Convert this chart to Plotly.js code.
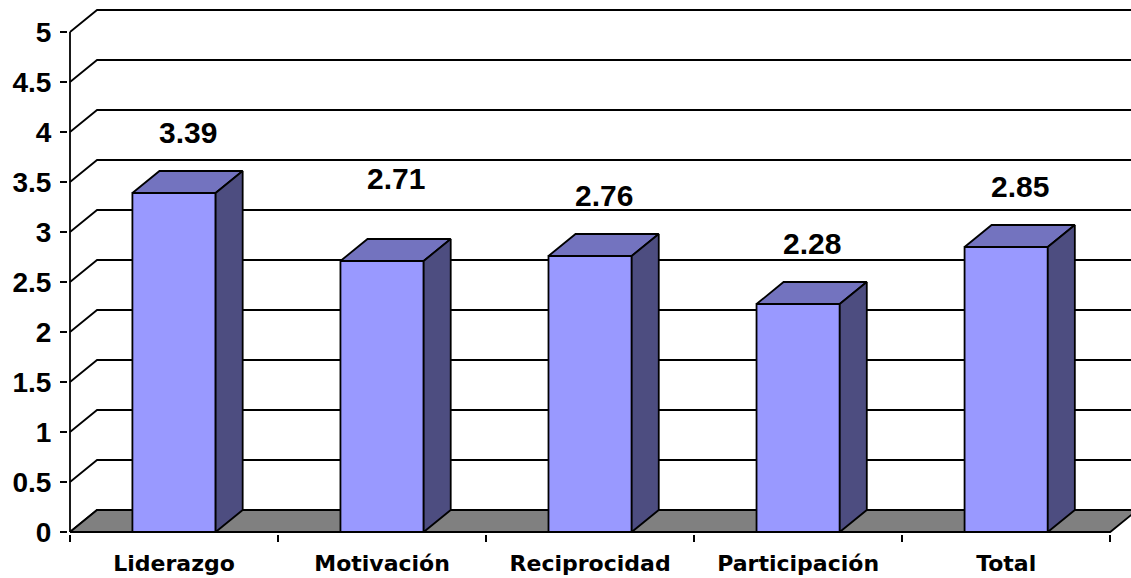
<!DOCTYPE html>
<html>
<head>
<meta charset="utf-8">
<script src="https://cdn.plot.ly/plotly-3.0.1.min.js"></script>
<style>
  html, body { margin: 0; padding: 0; background: #fff; }
  #chart { width: 1131px; height: 578px; }
</style>
</head>
<body>
<div id="chart"></div>
<script>
// chart values
var categories = ["Liderazgo", "Motivación", "Reciprocidad", "Participación", "Total"];
var values = [3.39, 2.71, 2.76, 2.28, 2.85];
var yTickVals = [0, 0.5, 1, 1.5, 2, 2.5, 3, 3.5, 4, 4.5, 5];
var yTickText = ["0", "0.5", "1", "1.5", "2", "2.5", "3", "3.5", "4", "4.5", "5"];

// fake 3d depth, in axis units
var DX = 0.13;
var DY = 0.22;
var HALF = 0.2;
var LEFT = -0.5;
var RIGHT = categories.length - 0.5;

var front = "#9999FF";
var topColor = "#7373BF";
var sideColor = "#4D4D80";
var edge = { color: "#000", width: 1.8 };

var traces = [];

// back wall gridlines + left wall diagonals
var gx = [], gy = [];
yTickVals.forEach(function (v) {
  gx.push(LEFT, LEFT + DX, RIGHT + DX + 1, null);
  gy.push(v, v + DY, v + DY, null);
});
traces.push({ x: gx, y: gy, mode: "lines", line: edge });

// front vertical axis
traces.push({ x: [LEFT, LEFT], y: [0, yTickVals[yTickVals.length - 1]], mode: "lines", line: edge });

// floor
traces.push({
  x: [LEFT, RIGHT, RIGHT + DX, LEFT + DX, LEFT],
  y: [0, 0, DY, DY, 0],
  mode: "lines", fill: "toself", fillcolor: "#808080", line: edge
});

// each bar: front face, top face, side face
values.forEach(function (v, i) {
  var l = i - HALF, r = i + HALF;
  traces.push({
    x: [l, r, r, l, l], y: [0, 0, v, v, 0],
    mode: "lines", fill: "toself", fillcolor: front, line: edge
  });
  traces.push({
    x: [l, r, r + DX, l + DX, l], y: [v, v, v + DY, v + DY, v],
    mode: "lines", fill: "toself", fillcolor: topColor, line: edge
  });
  traces.push({
    x: [r, r + DX, r + DX, r, r], y: [0, DY, v + DY, v, 0],
    mode: "lines", fill: "toself", fillcolor: sideColor, line: edge
  });
});

traces.forEach(function (t) {
  t.type = "scatter";
  t.hoverinfo = "skip";
  t.showlegend = false;
});

// the Motivación label sits a bit higher in the original
var labelNudge = [0, 22, 0, 0, 0];
var annotations = values.map(function (v, i) {
  return {
    x: i + DX / 2, y: v + DY + 0.39, yshift: labelNudge[i],
    text: v.toFixed(2), showarrow: false,
    xanchor: "center", yanchor: "middle",
    font: { family: "Liberation Sans, Arial", size: 30, weight: "bold", color: "#000" }
  };
});

var boundaries = categories.map(function (c, i) { return i - 0.5; });
boundaries.push(RIGHT);

var layout = {
  width: 1131,
  height: 578,
  margin: { l: 68, r: 0, t: 2, b: 44 },
  paper_bgcolor: "#fff",
  plot_bgcolor: "#fff",
  showlegend: false,
  annotations: annotations,
  xaxis: {
    range: [LEFT - 2 / 208, RIGHT + 0.1],
    tickmode: "array",
    tickvals: categories.map(function (c, i) { return i; }),
    ticktext: categories,
    ticks: "",
    ticklabelstandoff: 14,
    showgrid: false,
    zeroline: false,
    showline: false,
    tickfont: { family: "DejaVu Sans", size: 22, weight: "bold", color: "#000" },
    minor: { tickmode: "array", tickvals: boundaries, ticks: "outside", ticklen: 7, tickwidth: 1.8, tickcolor: "#000", showgrid: false },
    fixedrange: true
  },
  yaxis: {
    range: [-0.02, 5.3],
    tickmode: "array",
    tickvals: yTickVals,
    ticktext: yTickText,
    ticks: "outside",
    ticklen: 7,
    tickwidth: 1.8,
    tickcolor: "#000",
    ticklabelstandoff: 3,
    showgrid: false,
    zeroline: false,
    showline: false,
    tickfont: { family: "Liberation Sans, Arial", size: 28, weight: "bold", color: "#000" },
    fixedrange: true
  }
};

Plotly.newPlot("chart", traces, layout, { displayModeBar: false, staticPlot: true });
</script>
</body>
</html>
